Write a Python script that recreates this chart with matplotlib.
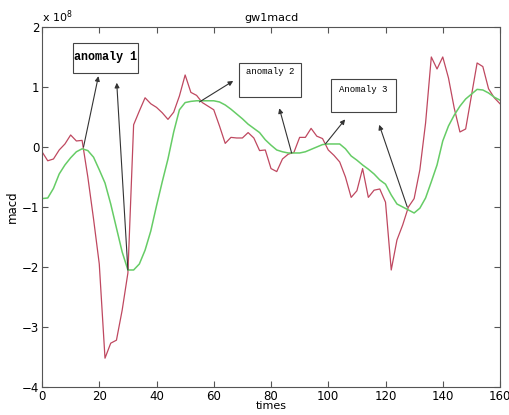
import numpy as np
import matplotlib.pyplot as plt

# values in units of 1e8
t = np.arange(0, 161, 2)
macd_red = [-0.08, -0.23, -0.2, -0.05, 0.05, 0.2, 0.1, 0.11, -0.5, -1.2,
            -1.95, -3.52, -3.27, -3.22, -2.72, -2.1, 0.37, 0.6, 0.82, 0.72,
            0.66, 0.57, 0.46, 0.58, 0.85, 1.2, 0.91, 0.86, 0.74, 0.68,
            0.62, 0.35, 0.06, 0.16, 0.15, 0.15, 0.24, 0.15, -0.06, -0.05,
            -0.36, -0.41, -0.2, -0.12, -0.09, 0.16, 0.16, 0.31, 0.18, 0.14,
            -0.05, -0.14, -0.25, -0.5, -0.84, -0.73, -0.36, -0.84, -0.72, -0.7,
            -0.92, -2.05, -1.55, -1.3, -1.0, -0.86, -0.38, 0.4, 1.5, 1.3,
            1.5, 1.15, 0.65, 0.25, 0.3, 0.85, 1.4, 1.34, 0.97, 0.82, 0.72]
macd_green = [-0.86, -0.85, -0.69, -0.45, -0.3, -0.18, -0.08, -0.03, -0.06, -0.17,
              -0.38, -0.6, -0.95, -1.35, -1.75, -2.05, -2.05, -1.95, -1.72, -1.4,
              -0.98, -0.58, -0.2, 0.25, 0.62, 0.74, 0.76, 0.77, 0.77, 0.77,
              0.77, 0.75, 0.7, 0.63, 0.55, 0.47, 0.38, 0.31, 0.24, 0.12,
              0.03, -0.05, -0.08, -0.1, -0.1, -0.1, -0.08, -0.04, 0.0, 0.04,
              0.05, 0.05, 0.05, -0.03, -0.15, -0.22, -0.3, -0.37, -0.45, -0.55,
              -0.62, -0.8, -0.95, -1.0, -1.05, -1.1, -1.02, -0.85, -0.58, -0.3,
              0.1, 0.35, 0.53, 0.68, 0.8, 0.88, 0.96, 0.95, 0.9, 0.83, 0.78]

labels = ['anomaly 1', 'anomaly 2', 'Anomaly 3']
arrows = [((14.5, 0.0), (19.7, 1.18)),
          ((30, -2.05), (26.1, 1.07)),
          ((55, 0.75), (66.8, 1.1)),
          ((87.2, -0.1), (82.9, 0.645)),
          ((99, 0.05), (105.9, 0.46)),
          ((127.6, -1.0), (117.8, 0.37))]

fig = plt.figure(figsize=(5.1, 4.15), dpi=100)
ax = fig.add_axes([0.0824, 0.0675, 0.898, 0.8675])

ax.plot(t, macd_red, color='#bf4860', lw=0.9)
ax.plot(t, macd_green, color='#66cc66', lw=1.1)

for (x0, y0), (x1, y1) in arrows:
    ax.annotate('', xy=(x1, y1), xytext=(x0, y0),
                arrowprops=dict(arrowstyle='-|>', color='#333333', lw=0.8,
                                mutation_scale=7, shrinkA=0, shrinkB=0))

# boxes (x0, x1, y0, y1)
boxes = [(10.9, 33.6, 1.23, 1.74), (68.8, 90.5, 0.83, 1.40), (101, 123.7, 0.58, 1.13)]
text_y = [1.5, 1.25, 0.95]
sizes = [8.5, 6.5, 6.5]
weights = ['bold', 'normal', 'normal']
for lab, (x0, x1, y0, y1), ty, fs, fw in zip(labels, boxes, text_y, sizes, weights):
    ax.add_patch(plt.Rectangle((x0, y0), x1 - x0, y1 - y0, facecolor='white',
                               edgecolor='#444444', lw=0.8, zorder=3))
    ax.text((x0 + x1) / 2, ty, lab, ha='center', va='center', fontsize=fs,
            fontweight=fw, family='Liberation Mono', zorder=4)

ax.set_xlim(0, 160)
ax.set_ylim(-4, 2)
ax.set_xticks(np.arange(0, 161, 20))
ax.set_yticks(np.arange(-4, 3, 1))
ax.tick_params(direction='in', top=True, right=True, labelsize=8.5, length=4,
               color='#555555', pad=2)
for s in ax.spines.values():
    s.set_color('#555555')
ax.set_title('gw1macd', fontsize=8, pad=4)
ax.set_xlabel('times', fontsize=8, labelpad=-1)
ax.set_ylabel('macd', fontsize=8.5, labelpad=2)
ax.text(0, 2.03, r'x 10$^8$', fontsize=8, ha='left', va='bottom')

fig.savefig('out.png', dpi=100)
